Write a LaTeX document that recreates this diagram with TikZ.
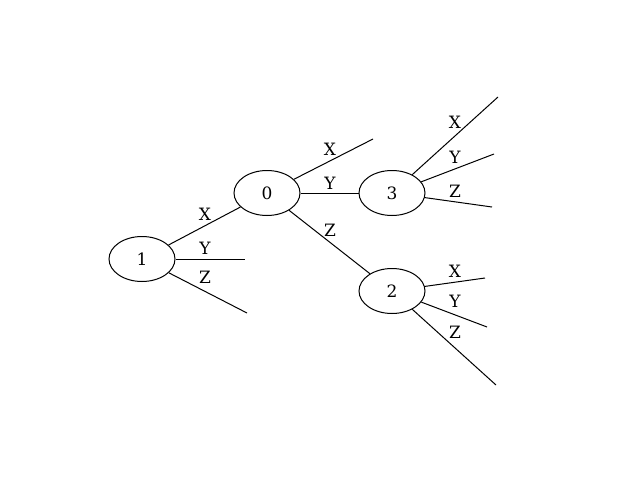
\documentclass[tikz,border=0pt]{standalone}
\usepackage{fontspec}
\setmainfont{DejaVu Serif}
\usetikzlibrary{shapes.geometric}
\begin{document}
\begin{tikzpicture}[x=1pt,y=-1pt,
  state/.style={draw,line width=1pt,ellipse,minimum width=66pt,minimum height=45pt,inner sep=0pt,font=\fontsize{17}{20}\selectfont},
  lbl/.style={inner sep=0pt,font=\fontsize{17}{20}\selectfont},
  edge/.style={draw,line width=1pt}]
\useasboundingbox (0,0) rectangle (640,480);
\node[state] (n1) at (142,259) {1};
\node[state] (n0) at (267,193) {0};
\node[state] (n3) at (392,193) {3};
\node[state] (n2) at (392,291) {2};
\coordinate (e1y) at (245,259);
\coordinate (e1z) at (247,313);
\coordinate (e0x) at (373,139);
\coordinate (e3x) at (498,97);
\coordinate (e3y) at (494,154);
\coordinate (e3z) at (492,207);
\coordinate (e2x) at (485,278);
\coordinate (e2y) at (487,327);
\coordinate (e2z) at (496,385);
\draw[edge] (n1) -- (n0);
\draw[edge] (n1.east) -- (e1y);
\draw[edge] (n1) -- (e1z);
\draw[edge] (n0) -- (e0x);
\draw[edge] (n0) -- (n3);
\draw[edge] (n0) -- (n2);
\draw[edge] (n3) -- (e3x);
\draw[edge] (n3) -- (e3y);
\draw[edge] (n3) -- (e3z);
\draw[edge] (n2) -- (e2x);
\draw[edge] (n2) -- (e2y);
\draw[edge] (n2) -- (e2z);
\node[lbl] (l1x) at (205,214) {X};
\node[lbl] (l1y) at (205,248) {Y};
\node[lbl] (l1z) at (205,277) {Z};
\node[lbl] (l0x) at (330,149) {X};
\node[lbl] (l0y) at (330,183) {Y};
\node[lbl] (l0z) at (330,230) {Z};
\node[lbl] (l3x) at (455,122) {X};
\node[lbl] (l3y) at (455,157) {Y};
\node[lbl] (l3z) at (455,191) {Z};
\node[lbl] (l2x) at (455,271) {X};
\node[lbl] (l2y) at (455,301) {Y};
\node[lbl] (l2z) at (455,332) {Z};
\end{tikzpicture}
\end{document}
